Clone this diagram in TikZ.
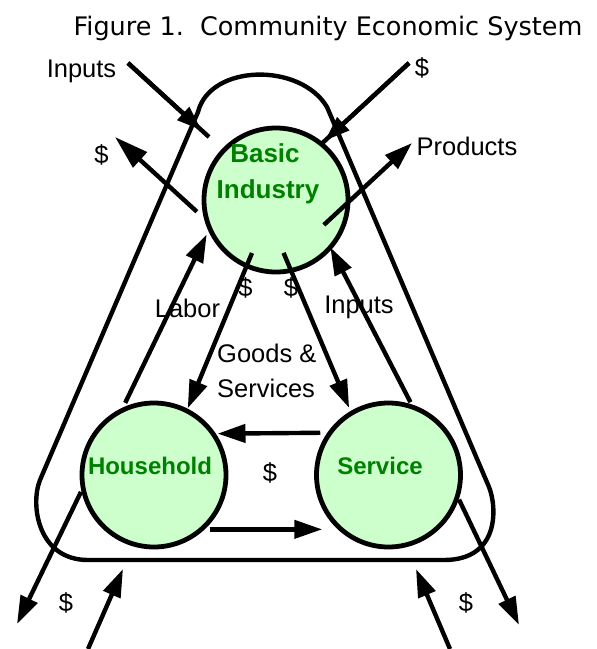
\documentclass[tikz,border=0pt]{standalone}
\usepackage{fontspec}
\setmainfont{Liberation Sans}
\newfontfamily\titlefont{DejaVu Sans}
\usetikzlibrary{arrows.meta,shapes.geometric}
\definecolor{cellgreen}{RGB}{204,255,204}
\definecolor{textgreen}{RGB}{0,128,0}
\begin{document}
\begin{tikzpicture}[x=1pt,y=-1pt,
  flow/.style={line width=4.4pt,-{Triangle[length=28pt,width=18pt]}},
  bigflow/.style={line width=4.4pt,-{Triangle[length=34pt,width=20pt]}},
  topflow/.style={line width=4.4pt,-{Triangle[length=25pt,width=17pt]}},
  plainline/.style={line width=4.4pt},
  sector/.style={circle,draw,line width=4.8pt,fill=cellgreen,minimum size=144pt,inner sep=0pt,outer sep=0pt},
  lbl/.style={font=\fontsize{25.5}{30}\selectfont,inner sep=0pt,anchor=base},
  glbl/.style={font=\fontsize{24}{28}\selectfont\bfseries,text=textgreen,inner sep=0pt,anchor=base},
  bglbl/.style={font=\fontsize{26}{30}\selectfont\bfseries,text=textgreen,inner sep=0pt,anchor=base}
]
\useasboundingbox (0,0) rectangle (597,649);

% title
\node[font=\titlefont\fontsize{25.5}{30}\selectfont,inner sep=0pt,anchor=base] (title) at (328,35) {Figure 1.\ \ Community Economic System};

% outer system boundary
\draw[line width=4.4pt,line join=round] (198,112) .. controls (210,64) and (300,62) .. (327,107)
  -- (489,487) .. controls (497,507) and (500,560) .. (444,560)
  -- (88,560) .. controls (38,560) and (30,505) .. (40,480) -- cycle;

% sectors
\node[sector] (bi) at (276,200) {};
\node[sector] (hh) at (154,475) {};
\node[sector] (ss) at (388.5,475) {};

% free ends
\coordinate (inS) at (128,63);
\coordinate (inE) at (209,137);
\coordinate (dS) at (409,63);
\coordinate (prodT) at (412,143);
\coordinate (dlT) at (115,137);
\coordinate (olT) at (17,624);
\coordinate (orT) at (519,625);
\coordinate (ilS) at (88,649);
\coordinate (ilT) at (123,569);
\coordinate (irS) at (450,649);
\coordinate (irT) at (416,569);

% top inputs / money
\draw[plainline] (inS) -- (inE);
\draw[topflow,shorten >=10pt] (inS) -- (inE);
\draw[plainline] (dS) -- (bi.51.1);
\draw[topflow,shorten >=5pt] (dS) -- (bi.51.1);

% basic industry exports
\draw[bigflow,shorten <=13.9pt] (bi.197.3) -- (dlT);
\draw[flow,shorten <=-32.9pt] (bi.-2.7) -- (prodT);

% internal flows
\draw[flow,shorten <=8.85pt,shorten >=6.9pt] (hh.117.2) -- (bi.203.6);
\draw[flow,shorten <=-13.8pt,shorten >=2.7pt] (bi.246) -- (hh.63.6);
\draw[flow,shorten <=-19.06pt,shorten >=5.83pt] (bi.-78.4) -- (ss.121.1);
\draw[flow,shorten <=5.8pt] (ss.70.4) -- (bi.-41);
\draw[flow,shorten <=10pt,shorten >=4.5pt] (ss.144.3) -- (hh.35.7);
\draw[flow,shorten <=8.5pt,shorten >=19pt] (hh.-49.8) -- (ss.229.8);

% bottom flows
\draw[flow,shorten <=4.85pt] (hh.190.1) -- (olT);
\draw[flow,shorten <=4pt] (ss.-17.3) -- (orT);
\draw[flow] (ilS) -- (ilT);
\draw[flow] (irS) -- (irT);

% labels
\node[lbl] (tInputs) at (81.5,77) {Inputs};
\node[lbl] (tDtop) at (422,76) {\$};
\node[lbl] (tDleft) at (101.5,163) {\$};
\node[lbl] (tProd) at (467,155) {Products};
\node[lbl] (tLabor) at (187.5,317) {Labor};
\node[lbl] (tDm1) at (245.5,296) {\$};
\node[lbl] (tDm2) at (291,296) {\$};
\node[lbl] (tInputs2) at (359,313) {Inputs};
\node[lbl,anchor=base west] (tGoods) at (217,362) {Goods \&};
\node[lbl,anchor=base west] (tServ) at (217,397) {Services};
\node[lbl] (tDmid) at (270,481) {\$};
\node[lbl] (tDbl) at (66,611) {\$};
\node[lbl] (tDbr) at (466,611) {\$};

\node[bglbl] (tBasic) at (265,162) {Basic};
\node[bglbl] (tIndustry) at (268,198) {Industry};
\node[glbl] (tHouse) at (150,474) {Household};
\node[glbl] (tService) at (380,474) {Service};
\end{tikzpicture}
\end{document}
